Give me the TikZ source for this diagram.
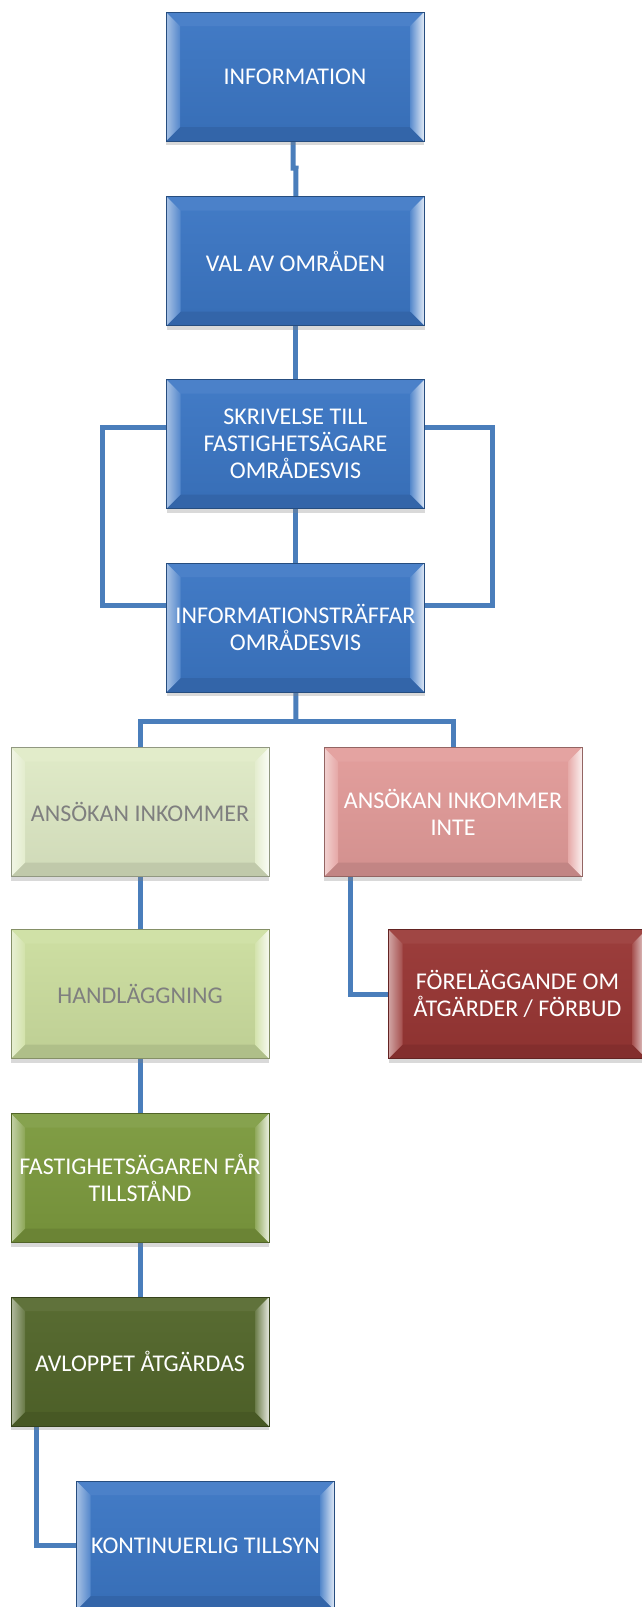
\documentclass[tikz,border=0pt]{standalone}
\usepackage{fontspec}
\setmainfont{Carlito}
\usetikzlibrary{shadows,backgrounds}
\definecolor{cblue}{HTML}{3B76C4}
\definecolor{cpale}{HTML}{DFEAC6}
\definecolor{clgreen}{HTML}{CCDE9F}
\definecolor{cgreen}{HTML}{7C9A3E}
\definecolor{cdgreen}{HTML}{52662A}
\definecolor{cpink}{HTML}{E29B99}
\definecolor{cred}{HTML}{983634}
\definecolor{cline}{HTML}{4A7EBB}
\definecolor{cgray}{HTML}{7F7F7F}
\tikzset{
  bevbox/.style={
    draw=#1!65!black, line width=0.8pt,
    top color=#1!96!white, bottom color=#1!93!black,
    minimum width=258pt, minimum height=129pt, inner sep=0pt,
    align=center, text=white,
    font=\fontsize{24pt}{27pt}\selectfont,
    drop shadow={shadow xshift=0pt, shadow yshift=-4pt, opacity=0.3},
    path picture={
      \coordinate (pNW) at (path picture bounding box.north west);
      \coordinate (pNE) at (path picture bounding box.north east);
      \coordinate (pSW) at (path picture bounding box.south west);
      \coordinate (pSE) at (path picture bounding box.south east);
      \fill[#1!92!white] (pNW) -- (pNE) -- ([shift={(-14pt,-14pt)}]pNE) -- ([shift={(14pt,-14pt)}]pNW) -- cycle;
      \fill[#1!86!black] (pSW) -- (pSE) -- ([shift={(-14pt,14pt)}]pSE) -- ([shift={(14pt,14pt)}]pSW) -- cycle;
      \shade[left color=#1!45!white, right color=#1!88!white] (pNW) -- ([shift={(14pt,-14pt)}]pNW) -- ([shift={(14pt,14pt)}]pSW) -- (pSW) -- cycle;
      \shade[left color=#1!85!white, right color=#1!15!white] (pNE) -- ([shift={(-14pt,-14pt)}]pNE) -- ([shift={(-14pt,14pt)}]pSE) -- (pSE) -- cycle;
    }
  },
  conn/.style={draw=cline, line width=5pt}
}
\begin{document}
\begin{tikzpicture}[x=1pt,y=-1pt]
\useasboundingbox (0,0) rectangle (641,1607);
\node[bevbox=cblue] (info) at (295,76.5) {INFORMATION};
\node[bevbox=cblue] (val) at (295.5,261) {VAL AV OMRÅDEN};
\node[bevbox=cblue] (skriv) at (295.5,444) {SKRIVELSE TILL\\FASTIGHETSÄGARE\\OMRÅDESVIS};
\node[bevbox=cblue] (traff) at (295.5,627.5) {INFORMATIONSTRÄFFAR\\OMRÅDESVIS};
\node[bevbox=cpale, text=cgray] (ansok) at (140,812) {ANSÖKAN INKOMMER};
\node[bevbox=cpink] (ansokinte) at (453,812) {ANSÖKAN INKOMMER\\INTE};
\node[bevbox=clgreen, text=cgray] (handl) at (140,994) {HANDLÄGGNING};
\node[bevbox=cred] (forel) at (517.5,994) {FÖRELÄGGANDE OM\\ÅTGÄRDER / FÖRBUD};
\node[bevbox=cgreen] (fast) at (140,1178) {FASTIGHETSÄGAREN FÅR\\TILLSTÅND};
\node[bevbox=cdgreen] (avlop) at (140,1361.5) {AVLOPPET ÅTGÄRDAS};
\node[bevbox=cblue] (kont) at (205.5,1545.5) {KONTINUERLIG TILLSYN};
\coordinate (lt) at (102,427);
\coordinate (lb) at (102,605);
\coordinate (rt) at (492,427);
\coordinate (rb) at (492,605);
\coordinate (bj) at (296,721);
\coordinate (fc) at (350,994);
\coordinate (kc) at (36,1545.5);
\coordinate (jog) at (293,168);
\begin{scope}[on background layer]
\draw[conn] (info.south -| jog) -- (jog) -- ++(3,0) -- (val);
\draw[conn] (val) -- (skriv);
\draw[conn] (skriv) -- (traff);
\draw[conn] (skriv.west |- lt) -- (lt) -- (lb) -- (traff.west |- lb);
\draw[conn] (skriv.east |- rt) -- (rt) -- (rb) -- (traff.east |- rb);
\draw[conn] (traff) -- (bj);
\draw[conn] (ansok) |- (bj) -| (ansokinte);
\draw[conn] (ansokinte.south -| fc) -- (fc) -- (forel.west);
\draw[conn] (ansok) -- (handl);
\draw[conn] (handl) -- (fast);
\draw[conn] (fast) -- (avlop);
\draw[conn] (avlop.south -| kc) -- (kc) -- (kont.west);
\end{scope}
\end{tikzpicture}
\end{document}
